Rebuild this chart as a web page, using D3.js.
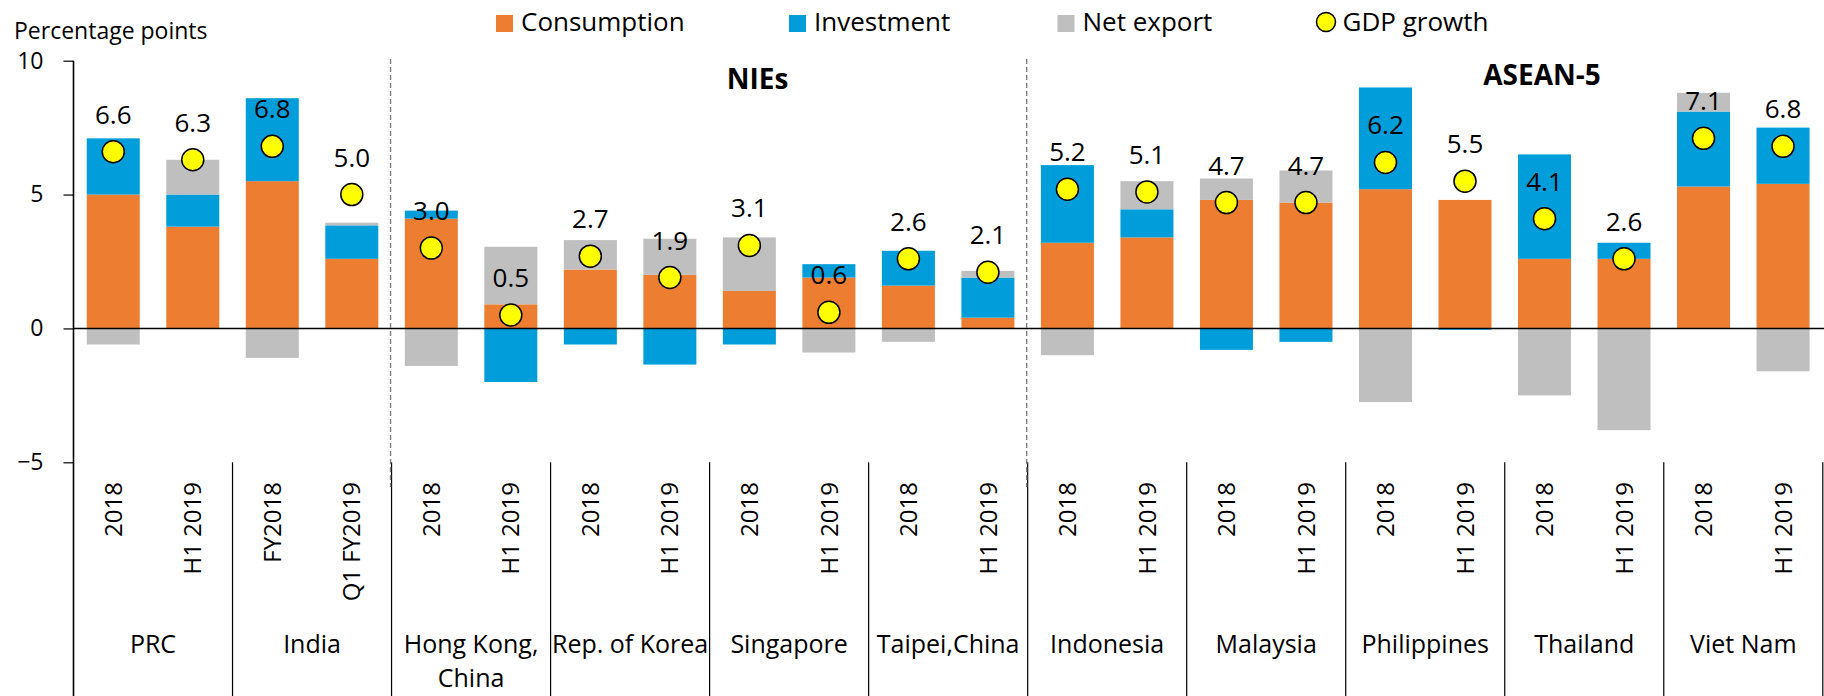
<!DOCTYPE html>
<html>
<head>
<meta charset="utf-8">
<script src="https://cdn.jsdelivr.net/npm/d3@7"></script>
<style>
  body { margin: 0; background: #fff; }
  svg { display: block; font-family: "Open Sans", sans-serif; }
</style>
</head>
<body>
<svg id="chart" width="1824" height="696"></svg>
<script>
// data
const countries = ["PRC", "India", "Hong Kong,\nChina", "Rep. of Korea", "Singapore", "Taipei,China",
  "Indonesia", "Malaysia", "Philippines", "Thailand", "Viet Nam"];
const periods = [
  ["2018", "H1 2019"], ["FY2018", "Q1 FY2019"], ["2018", "H1 2019"], ["2018", "H1 2019"],
  ["2018", "H1 2019"], ["2018", "H1 2019"], ["2018", "H1 2019"], ["2018", "H1 2019"],
  ["2018", "H1 2019"], ["2018", "H1 2019"], ["2018", "H1 2019"]
];
const consumption = [5.0, 3.8, 5.5, 2.6, 4.1, 0.9, 2.2, 2.0, 1.4, 1.9, 1.6, 0.4,
  3.2, 3.4, 4.8, 4.7, 5.2, 4.8, 2.6, 2.6, 5.3, 5.4];
const investment = [2.1, 1.2, 3.1, 1.25, 0.3, -2.0, -0.6, -1.35, -0.6, 0.5, 1.3, 1.5,
  2.9, 1.05, -0.8, -0.5, 3.8, -0.05, 3.9, 0.6, 2.8, 2.1];
const netExport = [-0.6, 1.3, -1.1, 0.1, -1.4, 2.15, 1.1, 1.35, 2.0, -0.9, -0.5, 0.25,
  -1.0, 1.05, 0.8, 1.2, -2.75, 0, -2.5, -3.8, 0.7, -1.6];
const gdpGrowth = [6.6, 6.3, 6.8, 5.0, 3.0, 0.5, 2.7, 1.9, 3.1, 0.6, 2.6, 2.1,
  5.2, 5.1, 4.7, 4.7, 6.2, 5.5, 4.1, 2.6, 7.1, 6.8];
const seriesNames = ["Consumption", "Investment", "Net export"];
const gdpName = "GDP growth";
const yTicks = [-5, 0, 5, 10];
const regions = [{ name: "NIEs", firstCountry: "Hong Kong,\nChina" }, { name: "ASEAN-5", firstCountry: "Indonesia" }];

const colors = { "Consumption": "#ED7D31", "Investment": "#009DDB", "Net export": "#BFBFBF" };

// build rows
let rows = [];
countries.forEach(function (c, gi) {
  periods[gi].forEach(function (p, pi) {
    let i = rows.length;
    rows.push({
      key: gi + "|" + pi, country: c, period: p,
      "Consumption": consumption[i], "Investment": investment[i], "Net export": netExport[i],
      gdp: gdpGrowth[i]
    });
  });
});

const svg = d3.select("#chart");
const m = { left: 73.5, right: 1822.8, top: 60.7, plotBottom: 462.3, bottom: 696 };

const x = d3.scaleBand()
  .domain(rows.map(d => d.key))
  .range([m.left, m.right])
  .paddingInner(1 / 3)
  .paddingOuter(1 / 6);

const y = d3.scaleLinear().domain([-5, 10]).range([m.plotBottom, m.top]);

const groupW = x.step() * 2;
const groupX = gi => m.left + gi * groupW;

// stacked bars
const stack = d3.stack().keys(seriesNames).offset(d3.stackOffsetDiverging);
const layers = stack(rows);

svg.append("g").selectAll("g")
  .data(layers)
  .join("g")
  .attr("fill", d => colors[d.key])
  .selectAll("rect")
  .data(d => d)
  .join("rect")
  .attr("x", d => x(d.data.key))
  .attr("width", x.bandwidth())
  .attr("y", d => y(Math.max(d[0], d[1])))
  .attr("height", d => Math.abs(y(d[0]) - y(d[1])));

// zero line
svg.append("line")
  .attr("x1", m.left).attr("x2", 1824)
  .attr("y1", y(0)).attr("y2", y(0))
  .attr("stroke", "#000").attr("stroke-width", 1.6);

// y axis
const yAxis = d3.axisLeft(y).tickValues(yTicks).tickSize(10).tickPadding(20).tickFormat(d3.format("d"));
const ya = svg.append("g").attr("transform", `translate(${m.left},0)`).call(yAxis);
ya.select(".domain").remove();
ya.selectAll(".tick line").attr("stroke", "#000").attr("stroke-width", 1.2);
ya.selectAll(".tick text").attr("font-size", 23).attr("fill", "#000")
  .attr("font-family", "Open Sans, sans-serif");
svg.append("line")
  .attr("x1", m.left).attr("x2", m.left).attr("y1", m.top).attr("y2", m.bottom)
  .attr("stroke", "#000").attr("stroke-width", 1.6);

svg.append("text")
  .attr("x", 14).attr("y", 39)
  .attr("font-size", 23)
  .text("Percentage points");

// group separators in category area
for (let gi = 1; gi <= countries.length; gi++) {
  svg.append("line")
    .attr("x1", groupX(gi)).attr("x2", groupX(gi))
    .attr("y1", m.plotBottom).attr("y2", m.bottom)
    .attr("stroke", "#000").attr("stroke-width", 1.2);
}

// period labels (rotated)
svg.append("g").selectAll("text")
  .data(rows)
  .join("text")
  .attr("transform", d => `translate(${x(d.key) + x.bandwidth() / 2},482) rotate(-90)`)
  .attr("text-anchor", "end")
  .attr("dy", "0.36em")
  .attr("font-size", 24)
  .text(d => d.period);

// country labels
countries.forEach(function (c, gi) {
  let lines = c.split("\n");
  let t = svg.append("text")
    .attr("text-anchor", "middle")
    .attr("font-size", 25);
  lines.forEach(function (l, li) {
    t.append("tspan")
      .attr("x", groupX(gi) + groupW / 2)
      .attr("y", 653 + li * 34)
      .text(l);
  });
});

// region dashed dividers and labels
regions.forEach(function (r) {
  let gx = groupX(countries.indexOf(r.firstCountry)) - 1;
  svg.append("line")
    .attr("x1", gx).attr("x2", gx)
    .attr("y1", 59).attr("y2", 487)
    .attr("stroke", "#7f7f7f").attr("stroke-width", 1.4)
    .attr("stroke-dasharray", "5,3");
});
svg.append("text")
  .attr("x", 757.5).attr("y", 89)
  .attr("text-anchor", "middle").attr("font-weight", "bold").attr("font-size", 28)
  .text(regions[0].name);
svg.append("text")
  .attr("x", 1542).attr("y", 85)
  .attr("text-anchor", "middle").attr("font-weight", "bold").attr("font-size", 28)
  .text(regions[1].name);

// GDP dots and labels
const cx = d => x(d.key) + x.bandwidth() / 2;
svg.append("g").selectAll("circle")
  .data(rows)
  .join("circle")
  .attr("cx", cx)
  .attr("cy", d => y(d.gdp))
  .attr("r", 11)
  .attr("fill", "#FFFF00")
  .attr("stroke", "#000")
  .attr("stroke-width", 1.5);

svg.append("g").selectAll("text")
  .data(rows)
  .join("text")
  .attr("x", cx)
  .attr("y", d => y(d.gdp) - 28)
  .attr("text-anchor", "middle")
  .attr("font-size", 26)
  .text(d => d3.format(".1f")(d.gdp));

// legend
const legendX = [496, 789, 1057.5];
seriesNames.forEach(function (s, i) {
  svg.append("rect")
    .attr("x", legendX[i]).attr("y", 15)
    .attr("width", 17).attr("height", 17)
    .attr("fill", colors[s]);
  svg.append("text")
    .attr("x", legendX[i] + 25).attr("y", 31)
    .attr("font-size", 26)
    .text(s);
});
svg.append("circle")
  .attr("cx", 1326).attr("cy", 22).attr("r", 9.5)
  .attr("fill", "#FFFF00").attr("stroke", "#000").attr("stroke-width", 1.5);
svg.append("text")
  .attr("x", 1342.5).attr("y", 31)
  .attr("font-size", 26)
  .text(gdpName);
</script>
</body>
</html>
